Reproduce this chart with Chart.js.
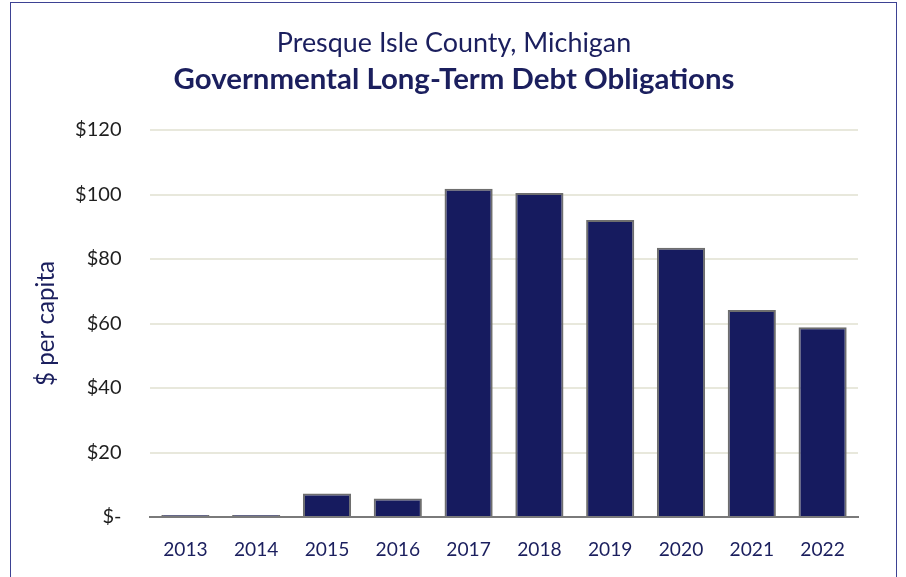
<!DOCTYPE html>
<html>
<head>
<meta charset="utf-8">
<script src="https://cdn.jsdelivr.net/npm/chart.js@4"></script>
<style>
  html, body { margin: 0; padding: 0; background: #ffffff; }
  #wrap { position: relative; width: 906px; height: 577px; overflow: hidden; }
  #frame { position: absolute; left: 10px; top: 2px; width: 887px; height: 620px; border: 1.5px solid #3d4293; box-sizing: border-box; }
  canvas { position: absolute; left: 0; top: 0; }
</style>
</head>
<body>
<div id="wrap">
  <div id="frame"></div>
  <canvas id="c" width="906" height="577"></canvas>
</div>
<script>
const titleLine1 = "Presque Isle County, Michigan";
const titleLine2 = "Governmental Long-Term Debt Obligations";
const yAxisTitle = "$ per capita";
const years = ["2013", "2014", "2015", "2016", "2017", "2018", "2019", "2020", "2021", "2022"];
const debtPerCapita = [0.6, 0.6, 7.3, 5.7, 101.8, 100.5, 92.1, 83.5, 64.2, 58.8];

const navy = "#1b1f5e";
const FONT = "Lato, 'Open Sans', sans-serif";

// fit font sizes so text widths match the reference
const mctx = document.createElement("canvas").getContext("2d");
function fitSize(text, weight, target) {
  mctx.font = weight + " 100px " + FONT;
  const w = mctx.measureText(text).width;
  return Math.round(100 * target / w * 10) / 10;
}
const fT1 = fitSize(titleLine1, "normal", 354);
const fT2 = fitSize(titleLine2, "bold", 562);
const fYT = fitSize(yAxisTitle, "normal", 125);
const fYTick = fitSize("$100", "normal", 46.5);
const fXTick = fitSize("2013", "normal", 44.5);

const chartTop = 130, chartBottom = 517;
const c1 = 43, c2 = 80;
const t1pad = c1 - 0.6 * fT1;
const t2padTop = (c2 - 0.6 * fT2) - (c1 + 0.6 * fT1);
const t2padBottom = chartTop - (c2 + 0.6 * fT2);

new Chart(document.getElementById("c"), {
  type: "bar",
  data: {
    labels: years,
    datasets: [{
      data: debtPerCapita,
      backgroundColor: "#161b5f",
      borderColor: "#6e6e6e",
      borderWidth: 2,
      categoryPercentage: 1.0,
      barPercentage: 0.68
    }]
  },
  options: {
    responsive: false,
    animation: false,
    devicePixelRatio: 1,
    layout: { padding: { top: 0, left: 10, right: 8, bottom: 0 } },
    plugins: {
      legend: { display: false },
      tooltip: { enabled: false },
      title: {
        display: true,
        text: titleLine1,
        color: navy,
        font: { family: FONT, size: fT1, weight: "normal" },
        padding: { top: t1pad, bottom: 0 }
      },
      subtitle: {
        display: true,
        text: titleLine2,
        color: navy,
        font: { family: FONT, size: fT2, weight: "bold" },
        padding: { top: t2padTop, bottom: t2padBottom }
      }
    },
    scales: {
      x: {
        grid: { display: false, drawTicks: false },
        border: { display: true, color: "#7a7a7a", width: 2 },
        ticks: { color: navy, font: { family: FONT, size: fXTick }, padding: 550 - chartBottom - 0.6 * fXTick, maxRotation: 0 },
        afterFit(scale) { scale.height = 577 - chartBottom; }
      },
      y: {
        min: 0,
        max: 120,
        ticks: {
          stepSize: 20,
          color: "#1e1e1e",
          font: { family: FONT, size: fYTick },
          padding: 28.5,
          callback: v => v === 0 ? "$-" : "$" + v
        },
        grid: { color: "#e8e8dc", lineWidth: 2, drawTicks: false },
        border: { display: false },
        title: {
          display: true,
          text: yAxisTitle,
          color: navy,
          font: { family: FONT, size: fYT },
          padding: { top: 46 - 10 - 0.6 * fYT, bottom: 0 }
        },
        afterFit(scale) { scale.width = 140; }
      },
      spacer: {
        type: "linear",
        position: "right",
        display: true,
        grid: { display: false, drawTicks: false },
        border: { display: false },
        ticks: { display: false },
        afterFit(scale) { scale.width = 906 - 8 - 858; }
      }
    }
  }
});
</script>
</body>
</html>
